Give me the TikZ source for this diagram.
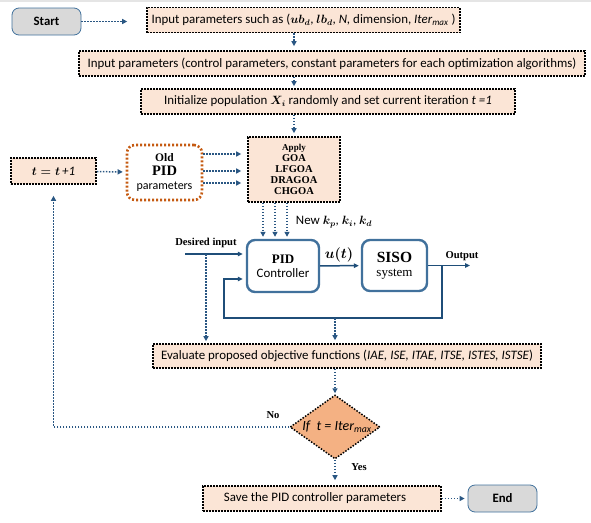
\documentclass[tikz,border=0pt]{standalone}
\usepackage{fontspec}
\setmainfont{Carlito}
\newfontfamily\tnr{Liberation Serif}
\usetikzlibrary{arrows.meta,shapes.geometric}
\definecolor{peach}{HTML}{FBE5D6}
\definecolor{flowblue}{HTML}{2A5783}
\definecolor{sigblue}{HTML}{1F4E79}
\definecolor{boxblue}{HTML}{41719C}
\definecolor{rust}{HTML}{C55A11}
\definecolor{tanfill}{HTML}{F4B183}
\definecolor{capgray}{HTML}{D9D9D9}
\newcommand{\itmax}{\textit{Iter}\textsubscript{\textit{max}}}
\newcommand{\bm}[1]{{\boldmath\fontsize{11.5}{13}\selectfont$#1$}}

\begin{document}
\begin{tikzpicture}[x=1pt, y=-1pt,
  every node/.style={font=\fontsize{12.9}{14}\selectfont, inner sep=0pt},
  stepbox/.style={draw, fill=peach, line width=1.6pt, dash pattern=on 1.6pt off 1.4pt, minimum height=25pt},
  capbox/.style={draw=boxblue, fill=capgray, line width=0.8pt, rounded corners=7pt,
    minimum width=69pt, minimum height=27pt, font=\fontsize{12.8}{14}\selectfont\bfseries},
  blockbox/.style={draw=boxblue, fill=white, line width=2.4pt, rounded corners=8pt, align=center},
  flow/.style={draw=flowblue, line width=1.5pt, dash pattern=on 1.5pt off 1.5pt,
    -{Triangle[length=5pt,width=5pt]}},
  sig/.style={draw=sigblue, line width=1.5pt, -{Triangle[length=5pt,width=4.5pt]}},
  lbl/.style={font=\tnr\bfseries\fontsize{10.6}{12}\selectfont}]

\useasboundingbox (0,0) rectangle (591,522);
\fill[gray!20] (0,0) rectangle (591,2);

% ---- start and the input steps ----
\node[capbox] (start) at (46.5,21.5) {Start};
\node[stepbox, minimum width=313pt] (inpar) at (303.5,20)
  {Input parameters such as (\bm{ub_d}, \bm{lb_d}, \textit{N,} dimension, \itmax\ )};
\node[stepbox, minimum width=506pt] (ctrl) at (332,63.5)
  {Input parameters (control parameters, constant parameters for each optimization algorithms)};
\node[stepbox, minimum width=374pt] (init) at (328,101.5)
  {Initialize population \bm{X_i} randomly and set current iteration \textit{t =1}};

% ---- parameter update ----
\node[stepbox, minimum width=85pt, minimum height=26pt] (tinc) at (53.5,171)
  {\bm{t = t}\,\textit{+1}};
\node[draw=rust, line width=2.6pt, dash pattern=on 2pt off 2pt, rounded corners=8pt,
  minimum width=75pt, minimum height=55pt, align=center] (oldpid) at (164.5,172.5)
  {{\tnr\bfseries\fontsize{11.5}{14}\selectfont Old}\\
   {\tnr\bfseries\fontsize{14.5}{15}\selectfont PID}\\
   {\fontsize{12}{15}\selectfont parameters}};
\node[stepbox, minimum width=92pt, minimum height=65pt, align=center,
  font=\tnr\bfseries\fontsize{10.5}{10.8}\selectfont] (apply) at (294,169.5)
  {{\fontsize{9}{10.8}\selectfont Apply}\\GOA\\LFGOA\\DRAGOA\\CHGOA};

% ---- control loop ----
\node[blockbox, minimum width=72pt, minimum height=52pt] (pid) at (283,266)
  {{\tnr\bfseries\fontsize{13}{14}\selectfont PID}\\Controller};
\node[blockbox, minimum width=65pt, minimum height=51pt] (siso) at (394.5,265.5)
  {{\tnr\bfseries\fontsize{15.5}{16}\selectfont SISO}\\{\tnr\fontsize{13}{16}\selectfont system}};
\node (newk) at (334,222) {New \bm{k_p}, \bm{k_i}, \bm{k_d}};
\node[lbl] (desin) at (206,243) {Desired input};
\node[font=\boldmath\fontsize{14}{15}\selectfont] (ut) at (339,255) {$u(t)$};
\node[lbl] (outlbl) at (462,256) {Output};
\coordinate (din) at (185,254);
\coordinate (out) at (470,265);
\coordinate (fb) at (442,265);
\coordinate (fbl) at (224,318);
\coordinate (fbm) at (335,318);

% ---- evaluation and stop test ----
\node[stepbox, minimum width=388pt, minimum height=24pt] (eval) at (347,356)
  {Evaluate proposed objective functions (\textit{IAE, ISE, ITAE, ITSE, ISTES, ISTSE})};
\node[diamond, draw, fill=tanfill, line width=1.5pt, dash pattern=on 1.5pt off 1.5pt,
  minimum width=90pt, minimum height=64pt] (cond) at (335,427) {};
\node[font=\itshape\fontsize{14}{15}\selectfont] (condtxt) at (337,427) {If\ \ t = \itmax};
\node[lbl] (nolbl) at (273,415) {No};
\node[lbl] (yeslbl) at (359,467) {Yes};
\node[stepbox, minimum width=238pt] (save) at (322,498.5) {Save the PID controller parameters\hspace*{14pt}};
\node[capbox] (endn) at (502.5,498.5) {End};

% ---- connectors ----
\draw[flow, shorten >=19pt] (start.east) -- (start.east -| inpar.west);
\draw[flow, shorten >=4pt] (inpar.south -| apply) -- (ctrl.north -| apply);
\draw[flow, shorten >=2pt] (ctrl.south -| apply) -- (init.north -| apply);
\draw[flow, shorten >=3pt] (init.south -| apply) -- (apply.north);
\draw[flow, shorten >=3pt] (tinc) -- (oldpid);
\foreach \yy in {154,171,183}
  \draw[flow, shorten >=6pt] (oldpid.east |- 0,\yy) -- (apply.west |- 0,\yy);
\foreach \xx in {263,275,287}
  \draw[flow, shorten >=2pt] (apply.south -| \xx,0) -- (pid.north -| \xx,0);
\draw[sig, shorten >=3pt] (din) -- (din -| pid.west);
\draw[flow, shorten >=2pt] (din -| desin) -- (eval.north -| desin);
\draw[sig, shorten >=2pt] (pid) -- (siso);
\draw[sig] (siso.east) -- (siso.east -| out);
\draw[sig, shorten >=3pt] (fb) |- (fbl) |- (pid.west |- 0,279);
\draw[flow, shorten >=3pt] (fbm) -- (eval.north -| fbm);
\draw[flow, shorten >=1pt] (eval.south -| cond) -- (cond.north);
\draw[flow, shorten >=11pt] (cond.west) -| (tinc.south);
\draw[flow, shorten >=5pt] (cond.south) -- (cond.south |- save.north);
\draw[flow, shorten >=3pt] (save.east) -- (endn.west);

\end{tikzpicture}
\end{document}
